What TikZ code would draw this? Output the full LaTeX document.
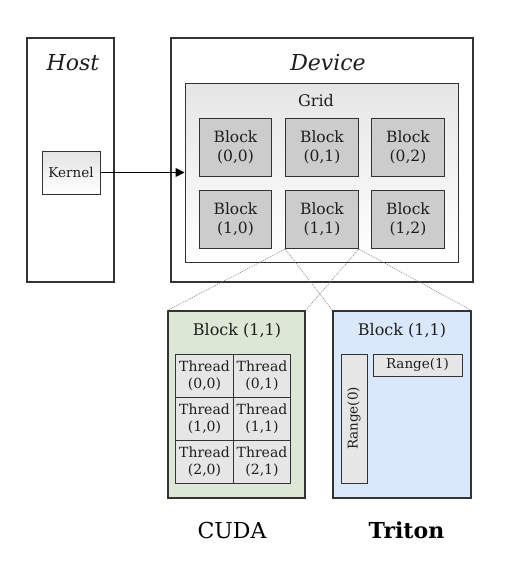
\documentclass[tikz,border=0pt]{standalone}
\usepackage{fontspec}
\setmainfont{DejaVu Serif}
\usetikzlibrary{arrows.meta,shadings}
\definecolor{txt}{HTML}{1E1E1E}
\definecolor{edge}{HTML}{333333}
\definecolor{blockgray}{HTML}{CCCCCC}
\definecolor{cellgray}{HTML}{E6E6E6}
\definecolor{cudagreen}{HTML}{DDE7D5}
\definecolor{tritonblue}{HTML}{DAE8FC}
\tikzset{
  box/.style={draw=edge, line width=1.1pt, rectangle, inner sep=0pt, text=txt},
  blockbox/.style={box, fill=blockgray, minimum width=72.5pt, minimum height=58pt, align=center, font=\fontsize{15.5}{19}\selectfont},
  threadcell/.style={box, line width=1pt, fill=cellgray, minimum width=57.5pt, minimum height=43pt, align=center, font=\fontsize{14}{17}\selectfont},
  rangebox/.style={box, line width=1pt, fill=cellgray, font=\fontsize{13.5}{15}\selectfont},
  title/.style={text=txt, inner sep=0pt, font=\fontsize{22}{24}\selectfont\itshape},
  zoomline/.style={draw=gray, line width=0.6pt, dash pattern=on 1pt off 1pt},
}
\begin{document}
\begin{tikzpicture}[x=1pt,y=-1pt]
\useasboundingbox (0,0) rectangle (508,562);
% Host
\node[box, minimum width=87pt, minimum height=244pt] (host) at (70.5,160) {};
\node[title] (hostlbl) at (73,63) {Host};
\node[box, line width=1pt, top color=gray!22, bottom color=white, minimum width=58pt, minimum height=43pt, font=\fontsize{13.5}{15}\selectfont] (kernel) at (71,172.5) {Kernel};
% Device
\node[box, minimum width=302pt, minimum height=244pt] (device) at (322,160) {};
\node[title] (devlbl) at (328,63) {Device};
\node[box, line width=1pt, top color=gray!20, bottom color=white, minimum width=273pt, minimum height=179pt] (grid) at (321.5,172.5) {};
\node[text=txt, inner sep=0pt, font=\fontsize{16}{18}\selectfont] (gridlbl) at (316,101) {Grid};
\node[blockbox] (b00) at (235.5,147.5) {Block\\(0,0)};
\node[blockbox] (b01) at (322,147.5) {Block\\(0,1)};
\node[blockbox] (b02) at (408,147.5) {Block\\(0,2)};
\node[blockbox] (b10) at (235.5,219.5) {Block\\(1,0)};
\node[blockbox] (b11) at (322,219.5) {Block\\(1,1)};
\node[blockbox] (b12) at (408,219.5) {Block\\(1,2)};
\draw[-{Triangle[length=9pt,width=9pt]}, line width=1pt, draw=black] (kernel.east) -- (grid.west);
% CUDA block
\node[box, fill=cudagreen, minimum width=137pt, minimum height=187pt] (cuda) at (236.5,404.5) {};
\node[text=txt, inner sep=0pt, font=\fontsize{16}{18}\selectfont] (cudalbl) at (237,331) {Block (1,1)};
\node[threadcell] (t00) at (204.5,375.5) {Thread\\(0,0)};
\node[threadcell] (t01) at (262,375.5) {Thread\\(0,1)};
\node[threadcell] (t10) at (204.5,419) {Thread\\(1,0)};
\node[threadcell] (t11) at (262,419) {Thread\\(1,1)};
\node[threadcell] (t20) at (204.5,462) {Thread\\(2,0)};
\node[threadcell] (t21) at (262,462) {Thread\\(2,1)};
% Triton block
\node[box, fill=tritonblue, minimum width=138pt, minimum height=187pt] (triton) at (402,404.5) {};
\node[text=txt, inner sep=0pt, font=\fontsize{16}{18}\selectfont] (tritonlbl) at (402,331) {Block (1,1)};
\node[rangebox, minimum width=26pt, minimum height=129pt] (r0) at (354,418.5) {};
\node[text=txt, inner sep=0pt, rotate=90, font=\fontsize{13.5}{15}\selectfont] (r0lbl) at (354,418.5) {Range(0)};
\node[rangebox, minimum width=89pt, minimum height=22pt] (r1) at (417.5,365) {Range(1)};
% zoom lines
\draw[zoomline] (b11.south west) -- (cuda.north west);
\draw[zoomline] (b11.south west) -- (triton.north west);
\draw[zoomline] (b11.south east) -- (cuda.north east);
\draw[zoomline] (b11.south east) -- (triton.north east);
% captions
\node[text=black, inner sep=0pt, font=\fontsize{22}{24}\selectfont] (cudacap) at (232,530) {CUDA};
\node[text=black, inner sep=0pt, font=\fontsize{22}{24}\selectfont\bfseries] (tritoncap) at (406.5,530) {Triton};
\end{tikzpicture}
\end{document}
